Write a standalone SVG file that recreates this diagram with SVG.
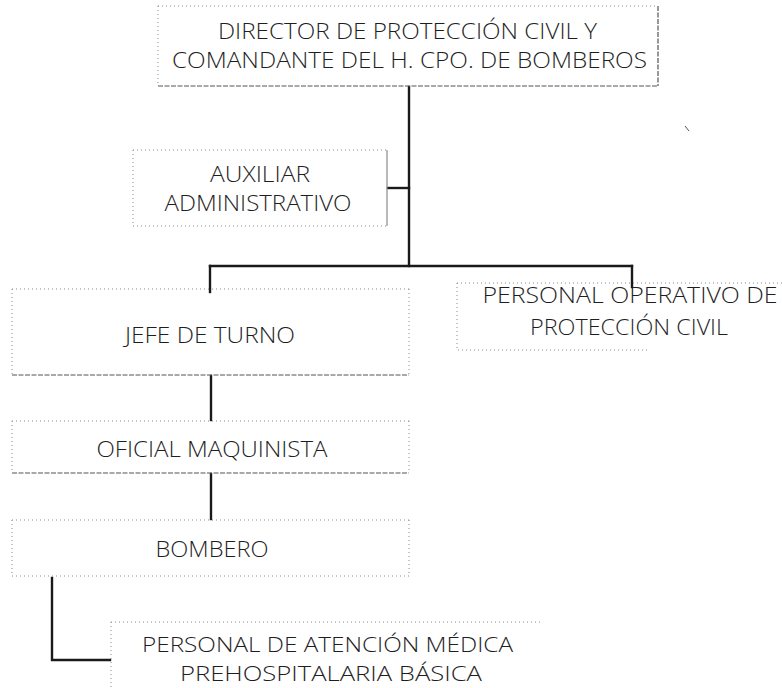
<svg xmlns="http://www.w3.org/2000/svg" width="782" height="688" viewBox="0 0 782 688">
<style>
.bg{fill:#ffffff}
.dot{fill:none;stroke:#8a8a8a;stroke-width:1;stroke-dasharray:1 3}
.dash{fill:none;stroke:#555;stroke-width:1.2;stroke-dasharray:5 1.5}
.solid{fill:none;stroke:#8a8a8a;stroke-width:1.2}
.conn{fill:none;stroke:#1a1a1a;stroke-width:2.4;stroke-linecap:square}
.t{font-family:"Open Sans","Noto Sans","DejaVu Sans",sans-serif;font-weight:300;font-size:22px;fill:#1e1e1e;text-anchor:middle}
.s{font-size:20px}
</style>
<rect class="bg" x="0" y="0" width="782" height="688"/>

<g id="connectors">
<path class="conn" d="M409,87 V266"/>
<path class="conn" d="M388,188 H409"/>
<path class="conn" d="M210,266 H632"/>
<path class="conn" d="M210,266 V292"/>
<path class="conn" d="M632,266 V287"/>
<path class="conn" d="M211,376 V420"/>
<path class="conn" d="M211,474 V519"/>
<path class="conn" d="M52,578 V660 H110"/>
</g>

<g id="director">
<path class="dot" d="M158,6 H658 M158,6 V86"/>
<path class="dash" d="M658,6 V86 M158,86 H658"/>
<text class="t" x="407.5" y="39" textLength="379" lengthAdjust="spacingAndGlyphs">DIRECTOR DE PROTECCIÓN CIVIL Y</text>
<text class="t" x="409.5" y="68" textLength="475" lengthAdjust="spacingAndGlyphs">COMANDANTE DEL H. CPO. DE BOMBEROS</text>
</g>

<g id="auxiliar">
<path class="dot" d="M133,150 H387 M133,150 V226 M133,226 H387"/>
<path class="solid" d="M387,150 V226"/>
<text class="t" x="260" y="182" textLength="100" lengthAdjust="spacingAndGlyphs">AUXILIAR</text>
<text class="t" x="258" y="211" textLength="187" lengthAdjust="spacingAndGlyphs">ADMINISTRATIVO</text>
</g>

<g id="jefe-turno">
<path class="dot" d="M12,289 H409 M12,289 V375 M409,289 V375"/>
<path class="dash" d="M12,375 H409"/>
<text class="t" x="210" y="343" textLength="170" lengthAdjust="spacingAndGlyphs">JEFE DE TURNO</text>
</g>

<g id="personal-operativo">
<path class="dot" d="M457,283 H782 M457,283 V350 H650"/>
<text class="t" x="630" y="303" textLength="295" lengthAdjust="spacingAndGlyphs">PERSONAL OPERATIVO DE</text>
<text class="t" x="629" y="335" textLength="198" lengthAdjust="spacingAndGlyphs">PROTECCIÓN CIVIL</text>
</g>

<g id="oficial-maquinista">
<path class="dot" d="M12,421 H409 M12,421 V473 M409,421 V473"/>
<path class="dash" d="M12,473 H409"/>
<text class="t" x="212" y="457" textLength="231" lengthAdjust="spacingAndGlyphs">OFICIAL MAQUINISTA</text>
</g>

<g id="bombero">
<path class="dot" d="M12,520 H409 M12,520 V576 H409 M409,520 V576"/>
<text class="t" x="212" y="557" textLength="113" lengthAdjust="spacingAndGlyphs">BOMBERO</text>
</g>

<g id="personal-atencion">
<path class="dot" d="M111,622 H542 M111,622 V688"/>
<text class="t s" x="327.5" y="652" textLength="371" lengthAdjust="spacingAndGlyphs">PERSONAL DE ATENCIÓN MÉDICA</text>
<text class="t s" x="331" y="681" textLength="302" lengthAdjust="spacingAndGlyphs">PREHOSPITALARIA BÁSICA</text>
</g>

<path d="M685,126 L689,131" stroke="#555" stroke-width="1" fill="none"/>
</svg>
